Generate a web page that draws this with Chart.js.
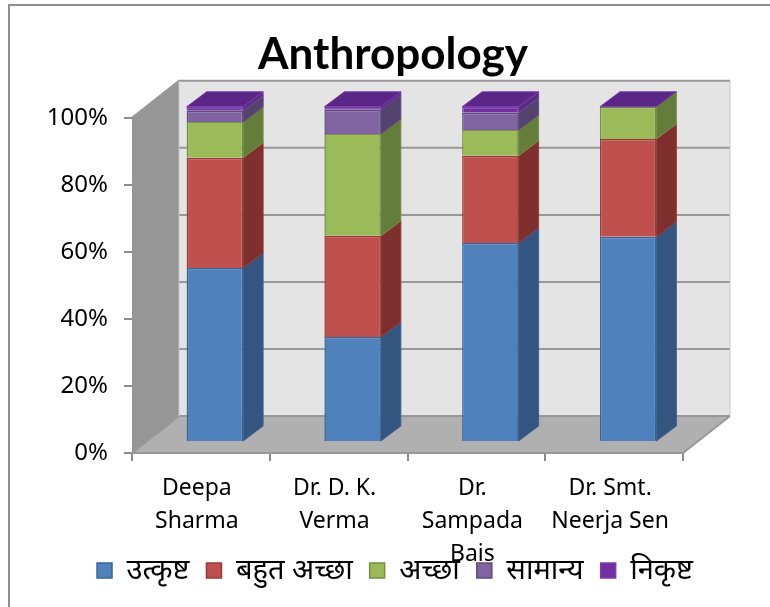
<!DOCTYPE html>
<html>
<head>
<meta charset="utf-8">
<title>Anthropology</title>
<script src="https://cdn.jsdelivr.net/npm/chart.js@4"></script>
<style>
  html, body { margin: 0; padding: 0; background: #fff; }
  #wrap { position: relative; width: 770px; height: 607px; }
</style>
</head>
<body>
<div id="wrap"><canvas id="chart" width="770" height="607"></canvas></div>
<script>
const teachers = [['Deepa', 'Sharma'], ['Dr. D. K.', 'Verma'], ['Dr.', 'Sampada', 'Bais'], ['Dr. Smt.', 'Neerja Sen']];
const utkrisht = [51.9, 31.3, 59.4, 61.2];
const bahutAccha = [32.9, 30.2, 26.0, 29.2];
const accha = [10.7, 30.4, 7.7, 9.6];
const samanya = [3.3, 7.2, 5.1, 0];
const nikrisht = [1.2, 0.9, 1.8, 0];
const yTicks = [0, 20, 40, 60, 80, 100];

const seriesNames = ['उत्कृष्ट', 'बहुत अच्छा', 'अच्छा', 'सामान्य', 'निकृष्ट'];
const seriesValues = [utkrisht, bahutAccha, accha, samanya, nikrisht];
const fronts = ['#4f81bd', '#c0504d', '#9bbb59', '#8064a2', '#7030a0'];
const edges = ['#3a6496', '#963d3a', '#768f44', '#62497f', '#7c3cab'];
const sides = ['#34557f', '#7f302e', '#647d3a', '#54436e', '#54307a'];
const lid = '#5a2688';

// depth of the whole box, and of the bars standing inside it
const wallDX = 47, wallDY = -37;
const barDX = 20, barDY = -15;
const barShiftX = 14, barShiftY = -11;

function poly(ctx, pts, fill, stroke) {
  ctx.beginPath();
  pts.forEach((p, i) => i ? ctx.lineTo(p[0], p[1]) : ctx.moveTo(p[0], p[1]));
  ctx.closePath();
  ctx.fillStyle = fill;
  ctx.fill();
  if (stroke) {
    ctx.strokeStyle = stroke;
    ctx.lineWidth = 1;
    ctx.stroke();
  }
}

const box3d = {
  id: 'box3d',
  afterLayout(chart) {
    // title sits a little left of the legend centre
    chart.titleBlock.left -= 4;
    // labels are clipped to the axis box, "Bais" has to run into the legend
    chart.scales.x.bottom += 40;
  },
  beforeDatasetsDraw(chart) {
    const { ctx, chartArea: a, scales: { y } } = chart;
    const L = a.left, R = a.right, T = a.top, B = a.bottom;
    ctx.save();
    // back wall
    poly(ctx, [[L + wallDX, T + wallDY], [R + wallDX, T + wallDY], [R + wallDX, B + wallDY], [L + wallDX, B + wallDY]], '#e4e4e4');
    // side wall
    poly(ctx, [[L, T], [L + wallDX, T + wallDY], [L + wallDX, B + wallDY], [L, B]], '#969696');
    // floor
    poly(ctx, [[L, B], [L + wallDX, B + wallDY], [R + wallDX, B + wallDY], [R, B]], '#b0b0b0');
    // grid lines across both walls
    ctx.strokeStyle = '#989898';
    ctx.lineWidth = 2;
    yTicks.forEach(v => {
      const py = y.getPixelForValue(v);
      ctx.beginPath();
      ctx.moveTo(L, py);
      ctx.lineTo(L + wallDX, py + wallDY);
      ctx.lineTo(R + wallDX, py + wallDY);
      ctx.stroke();
    });
    ctx.beginPath();
    ctx.moveTo(L, B);
    ctx.lineTo(R, B);
    ctx.lineTo(R + wallDX, B + wallDY);
    ctx.stroke();
    ctx.strokeStyle = '#c8c8c8';
    ctx.lineWidth = 1;
    ctx.beginPath();
    ctx.moveTo(L + wallDX, T + wallDY);
    ctx.lineTo(L + wallDX, B + wallDY);
    ctx.moveTo(R + wallDX, T + wallDY);
    ctx.lineTo(R + wallDX, B + wallDY);
    ctx.stroke();
    ctx.restore();

    // bars are drawn by the library, moved back into the box
    ctx.save();
    ctx.translate(barShiftX, barShiftY);
  },
  afterDatasetsDraw(chart) {
    const { ctx } = chart;
    // side faces and lid follow the bar elements
    chart.data.datasets.forEach((ds, i) => {
      chart.getDatasetMeta(i).data.forEach(bar => {
        const { x, y, base, width } = bar.getProps(['x', 'y', 'base', 'width'], true);
        if (Math.abs(base - y) < 0.5) return;
        const r = x + width / 2;
        poly(ctx, [[r, y], [r + barDX, y + barDY], [r + barDX, base + barDY], [r, base]], sides[i], edges[i]);
      });
    });
    const lastMeta = chart.getDatasetMeta(chart.data.datasets.length - 1);
    lastMeta.data.forEach(bar => {
      const { x, y, width } = bar.getProps(['x', 'y', 'width'], true);
      const l = x - width / 2, r = x + width / 2;
      poly(ctx, [[l, y], [l + barDX, y + barDY], [r + barDX, y + barDY], [r, y]], lid, edges[4]);
    });
    ctx.restore();
  },
  afterDraw(chart) {
    // picture frame, only top and left are inside the crop
    const { ctx, width, height } = chart;
    ctx.save();
    ctx.strokeStyle = '#8f8f8f';
    ctx.lineWidth = 2;
    ctx.beginPath();
    ctx.moveTo(9, height);
    ctx.lineTo(9, 5);
    ctx.lineTo(width, 5);
    ctx.stroke();
    ctx.restore();
  }
};

new Chart(document.getElementById('chart'), {
  type: 'bar',
  data: {
    labels: teachers,
    datasets: seriesNames.map((name, i) => ({
      label: name,
      data: seriesValues[i],
      backgroundColor: fronts[i],
      borderColor: edges[i],
      borderWidth: 1.5,
      barPercentage: 1,
      categoryPercentage: 0.41,
      clip: false
    }))
  },
  options: {
    responsive: false,
    animation: false,
    layout: { padding: { left: 20, right: 0, top: 0, bottom: 12 } },
    scales: {
      x: {
        stacked: true,
        border: { color: '#8c8c8c', width: 1 },
        grid: { drawOnChartArea: false, color: '#8c8c8c', tickLength: 8, lineWidth: 2 },
        ticks: {
          color: '#000', maxRotation: 0, autoSkip: false, padding: 11, labelOffset: -4,
          font: { family: 'Noto Sans', size: 23, lineHeight: 1.43 }
        },
        afterFit(axis) { axis.height = 86; }
      },
      y: {
        stacked: true,
        min: 0,
        max: 100,
        border: { color: '#8c8c8c', width: 1 },
        grid: { drawOnChartArea: false, color: '#8c8c8c', tickLength: 8, lineWidth: 2 },
        ticks: {
          color: '#000', stepSize: 20, padding: 16,
          font: { family: 'Noto Sans', size: 24 },
          callback: v => v + '%'
        },
        afterFit(axis) { axis.width = 112; }
      },
      // empty axis, only keeps room on the right for the 3d depth
      spare: {
        position: 'right',
        grid: { display: false },
        border: { display: false },
        ticks: { display: false },
        afterFit(axis) { axis.width = 87; }
      }
    },
    plugins: {
      title: {
        display: true,
        text: 'Anthropology',
        color: '#000',
        font: { family: 'Lato', size: 44, weight: 'bold', lineHeight: 1.2 },
        padding: { top: 28, bottom: 37 }
      },
      legend: {
        position: 'bottom',
        labels: {
          color: '#000',
          boxWidth: 15,
          boxHeight: 15,
          padding: 17,
          font: { family: 'Noto Sans', size: 29 }
        }
      },
      tooltip: { enabled: false }
    }
  },
  plugins: [box3d]
});
</script>
</body>
</html>
